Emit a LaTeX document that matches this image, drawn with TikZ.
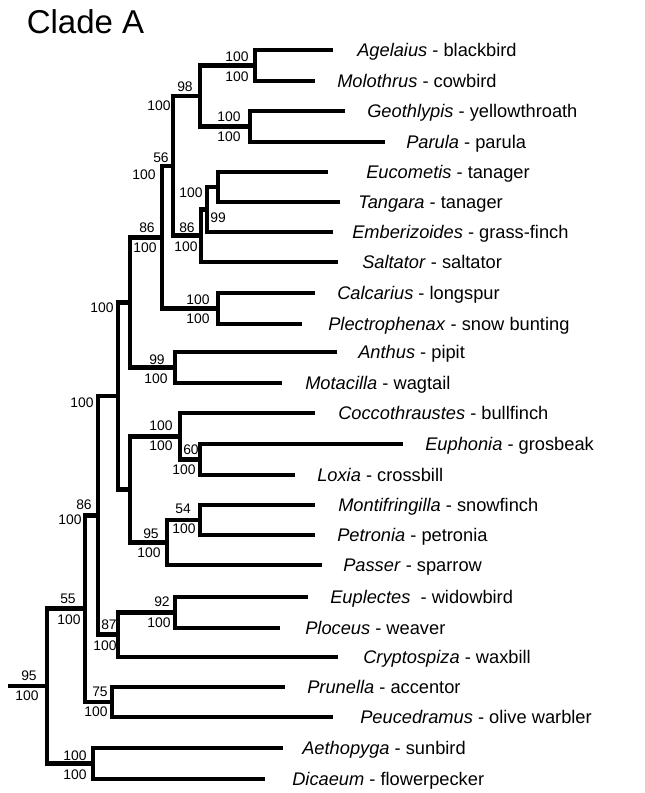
\documentclass[tikz,border=0pt]{standalone}
\usepackage{fontspec}
\setmainfont{Liberation Sans}
\tikzset{
  branch/.style={line width=3.5pt, line join=miter},
  taxon/.style={anchor=base west, inner sep=0pt, font=\fontsize{13.7}{16}\selectfont},
  boot/.style={inner sep=0pt, font=\fontsize{10.4}{12}\selectfont},
  cladename/.style={anchor=base west, inner sep=0pt, font=\fontsize{24.75}{30}\selectfont}
}

\begin{document}
\begin{tikzpicture}[x=0.75pt, y=-0.75pt]
    \useasboundingbox (0,0) rectangle (645,793);
    \node[cladename] (title) at (26.5,33) {Clade A};

    \foreach \y/\e/\l/\g/\c in {50/333/357/Agelaius/blackbird, 81/315/337/Molothrus/cowbird,
        111/345/367/Geothlypis/yellowthroath, 142/385/406/Parula/parula,
        172/328/366/Eucometis/tanager, 202/340/358/Tangara/tanager,
        232/333/352/Emberizoides/grass-finch, 262/338/362/Saltator/saltator,
        293/315/337/Calcarius/longspur, 324/302/328/Plectrophenax/snow bunting,
        352/337/358/Anthus/pipit, 383/282/305/Motacilla/wagtail,
        413/315/338/Coccothraustes/bullfinch, 444/403/425/Euphonia/grosbeak,
        475/295/317/Loxia/crossbill, 505/315/338/Montifringilla/snowfinch,
        535/315/337/Petronia/petronia, 565/322/343/Passer/sparrow,
        628/280/305/Ploceus/weaver, 657/338/363/Cryptospiza/waxbill,
        687/285/307/Prunella/accentor, 717/333/360/Peucedramus/olive warbler,
        748/283/302/Aethopyga/sunbird, 779/265/292/Dicaeum/flowerpecker}
    {
      \coordinate (\g) at (\e,\y);
      \node[taxon] (t\g) at (\l,\y+6.8) {\textit{\g} - \c};
    }
    \coordinate (Euplectes) at (308,597);
    \node[taxon] (tEuplectes) at (330,603.8) {\textit{Euplectes}\ \ - widowbird};

    \coordinate (nAgMo) at (255,65.5);
    \coordinate (nGePa) at (250,126.5);
    \coordinate (nA) at (200,96);
    \coordinate (nEuTa) at (218,187);
    \coordinate (nEuTaEm) at (207,209.5);
    \coordinate (nEuTaEmSa) at (201,235.75);
    \coordinate (nB) at (173,165.9);
    \coordinate (nCaPl) at (218,308.5);
    \coordinate (nC) at (162,237.2);
    \coordinate (nAnMo) at (175,367.5);
    \coordinate (nD) at (130,302.4);
    \coordinate (nEuLo) at (200,459.5);
    \coordinate (nCoEuLo) at (180,436.25);
    \coordinate (nMoPe) at (200,520);
    \coordinate (nMoPePa) at (167,542.5);
    \coordinate (nF) at (130,489.4);
    \coordinate (nE) at (118,395.9);
    \coordinate (nEuPl) at (175,612.5);
    \coordinate (nEuPlCr) at (118,634.75);
    \coordinate (nG) at (98,515.3);
    \coordinate (nPrPe) at (112,702);
    \coordinate (nH) at (85,608.7);
    \coordinate (nAeDi) at (93,763.5);
    \coordinate (nRoot) at (47,686.1);
    \coordinate (base) at (8,686.1);

    \draw[branch] (Agelaius) -| (nAgMo) |- (Molothrus);
    \draw[branch] (Geothlypis) -| (nGePa) |- (Parula);
    \draw[branch] (nAgMo) -| (nA) |- (nGePa);
    \draw[branch] (Eucometis) -| (nEuTa) |- (Tangara);
    \draw[branch] (nEuTa) -| (nEuTaEm) |- (Emberizoides);
    \draw[branch] (nEuTaEm) -| (nEuTaEmSa) |- (Saltator);
    \draw[branch] (nA) -| (nB) |- (nEuTaEmSa);
    \draw[branch] (Calcarius) -| (nCaPl) |- (Plectrophenax);
    \draw[branch] (nB) -| (nC) |- (nCaPl);
    \draw[branch] (Anthus) -| (nAnMo) |- (Motacilla);
    \draw[branch] (nC) -| (nD) |- (nAnMo);
    \draw[branch] (Euphonia) -| (nEuLo) |- (Loxia);
    \draw[branch] (Coccothraustes) -| (nCoEuLo) |- (nEuLo);
    \draw[branch] (Montifringilla) -| (nMoPe) |- (Petronia);
    \draw[branch] (nMoPe) -| (nMoPePa) |- (Passer);
    \draw[branch] (nCoEuLo) -| (nF) |- (nMoPePa);
    \draw[branch] (nD) -| (nE) |- (nF);
    \draw[branch] (Euplectes) -| (nEuPl) |- (Ploceus);
    \draw[branch] (nEuPl) -| (nEuPlCr) |- (Cryptospiza);
    \draw[branch] (nE) -| (nG) |- (nEuPlCr);
    \draw[branch] (Prunella) -| (nPrPe) |- (Peucedramus);
    \draw[branch] (nG) -| (nH) |- (nPrPe);
    \draw[branch] (Aethopyga) -| (nAeDi) |- (Dicaeum);
    \draw[branch] (nH) -| (nRoot) |- (nAeDi);
    \draw[branch] (base) -- (nRoot);

    \foreach \x/\y/\v [count=\i] in {237/57/100, 237/77/100, 185/87/98, 159/106/100,
        229/117/100, 229/137/100, 161/158/56, 144/175/100, 191/193/100, 218/218/99,
        187/228/86, 186/247/100, 147/228/86, 145/248/100, 198/300/100, 198/319/100,
        102/308/100, 157/360/99, 156/379/100, 82/403/100, 161/426/100, 161/446/100,
        191/450/60, 184/470/100, 84/505/86, 70/520/100, 183/509/54, 184/529/100,
        151/534/95, 149/553/100, 68/599/55, 69/620/100, 162/602/92, 159/623/100,
        109/625/87, 105/646/100, 100/692/75, 96/712/100, 29/676/95, 27/696/100,
        75/756/100, 75/775/100}
      \node[boot] (b\i) at (\x,\y) {\v};
  \end{tikzpicture}
\end{document}
